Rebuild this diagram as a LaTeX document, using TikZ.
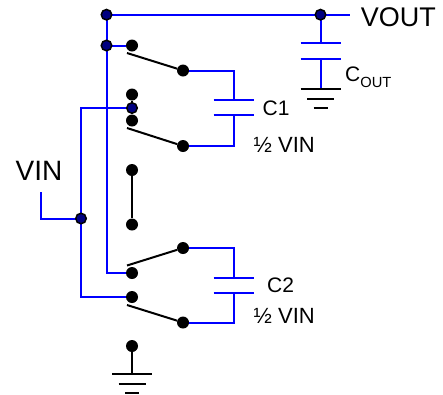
\documentclass[tikz,border=0pt]{standalone}
\usepackage{fontspec}
\setmainfont{Liberation Sans}
\definecolor{wireblue}{RGB}{0,0,255}
\definecolor{dotnavy}{RGB}{0,0,128}
\tikzset{wire/.style={color=wireblue,line width=2pt}}
\tikzset{blade/.style={color=black,line width=2pt}}
\tikzset{contact/.style={circle,fill=black,inner sep=0pt,minimum size=12pt}}
\tikzset{junction/.style={circle,fill=dotnavy,draw=black,line width=1.5pt,inner sep=0pt,minimum size=10.5pt}}
\tikzset{label/.style={inner sep=0pt,anchor=base west,font=\fontsize{#1}{#1}\selectfont},label/.default=21}
\newcommand{\groundbars}[1]{%
	\draw [blade] ($(#1)+(-20,0)$) -- ($(#1)+(20,0)$);
	\draw [blade] ($(#1)+(-13.5,9.5)$) -- ($(#1)+(13.5,9.5)$);
	\draw [blade] ($(#1)+(-7,19)$) -- ($(#1)+(7,19)$);
}
\newcommand{\capplates}[1]{%
	\draw [wire] ($(#1)+(-20,0)$) -- ($(#1)+(20,0)$);
	\draw [wire] ($(#1)+(-20,15.3)$) -- ($(#1)+(20,15.3)$);
}
\usetikzlibrary{calc}

\begin{document}
\begin{tikzpicture}[x=1pt,y=-1pt]
	\useasboundingbox (0,0) rectangle (443,394);

	% junctions and contacts
	\coordinate (outleft) at (106.5,14.7);
	\coordinate (outright) at (320.5,14.7);
	\coordinate (outend) at (350,14.7);
	\coordinate (railtop) at (106.5,45.5);
	\coordinate (railbot) at (106.5,273);
	\coordinate (vinstart) at (40.5,192);
	\coordinate (vincorner) at (40.5,218.5);
	\coordinate (vinmid) at (81,218.5);
	\coordinate (vintop) at (81,108);
	\coordinate (vinbot) at (81,297);

	% first capacitor
	\coordinate (cAtop) at (233.5,70.5);
	\coordinate (cAbot) at (233.5,146);
	\coordinate (cAplate) at (233.5,99.5);
	\coordinate (cAlow) at (233.5,114.8);
	% second capacitor
	\coordinate (cBtop) at (233.5,248);
	\coordinate (cBbot) at (233.5,322.5);
	\coordinate (cBplate) at (233.5,277.5);
	\coordinate (cBlow) at (233.5,292.8);
	% output capacitor
	\coordinate (cOplate) at (320.5,43.3);
	\coordinate (cOlow) at (320.5,58.6);
	\coordinate (cOgnd) at (320.5,89);
	\coordinate (gnd) at (132,374);
	% blade ends
	\coordinate (bladeA) at (127,53);
	\coordinate (bladeB) at (127,128);
	\coordinate (bladeC) at (127,265.5);
	\coordinate (bladeD) at (127,305);

	\node [contact] (s1a) at (132,45.5) {};
	\node [contact] (s1b) at (183,70.5) {};
	\node [contact] (s2a) at (132,94.5) {};
	\node [contact] (s2b) at (132,120.5) {};
	\node [contact] (s2c) at (183,146) {};
	\node [contact] (s3a) at (132,170) {};
	\node [contact] (s3b) at (132,224.5) {};
	\node [contact] (s4a) at (183,248) {};
	\node [contact] (s4b) at (132,273) {};
	\node [contact] (s5a) at (132,297) {};
	\node [contact] (s5b) at (183,322.5) {};
	\node [contact] (s6) at (132,346) {};

	% wires
	\draw [wire] (s1b) -- (cAtop) -- (cAplate);
	\draw [wire] (cAlow) -- (cAbot) -- (s2c);
	\draw [wire] (s4a) -- (cBtop) -- (cBplate);
	\draw [wire] (cBlow) -- (cBbot) -- (s5b);
	\capplates{cAplate}
	\capplates{cBplate}
	\capplates{cOplate}
	\draw [wire] (outleft) -- (outend);
	\draw [wire] (outright) -- (cOplate);
	\draw [wire] (cOlow) -- (cOgnd);
	\draw [wire] (outleft) -- (railbot) -- (s4b);
	\draw [wire] (railtop) -- (s1a);
	\draw [wire] (vinstart) -- (vincorner) -- (vinmid);
	\draw [wire] (s5a) -- (vinbot) -- (vintop) -- (s2a |- vintop);

	% switches
	\draw [blade] (bladeA) -- (s1b);
	\draw [blade] (bladeB) -- (s2c);
	\draw [blade] (bladeC) -- (s4a);
	\draw [blade] (bladeD) -- (s5b);
	\draw [blade] (s2a) -- (s2b);
	\draw [blade] (s3a) -- (s3b);
	\draw [blade] (s6) -- (gnd);
	\groundbars{gnd}
	\groundbars{cOgnd}

	\node [junction] (j1) at (outleft) {};
	\node [junction] (j2) at (outright) {};
	\node [junction] (j3) at (railtop) {};
	\node [junction] (j4) at (132,108) {};
	\node [junction] (j5) at (vinmid) {};

	% labels
	\node [label=27] (vout) at (360.7,26.7) {VOUT};
	\node [label=28] (vin) at (15.5,180.7) {VIN};
	\node [label] (c1) at (262.5,115) {C1};
	\node [label] (c2) at (267,292) {C2};
	\node [label=22] (half1) at (253.5,152.5) {½ VIN};
	\node [label=22] (half2) at (253.5,323) {½ VIN};
	\node [label] (cout) at (345,81) {C\raisebox{-6.7pt}{\fontsize{14.7}{14.7}\selectfont OUT}};
\end{tikzpicture}
\end{document}
